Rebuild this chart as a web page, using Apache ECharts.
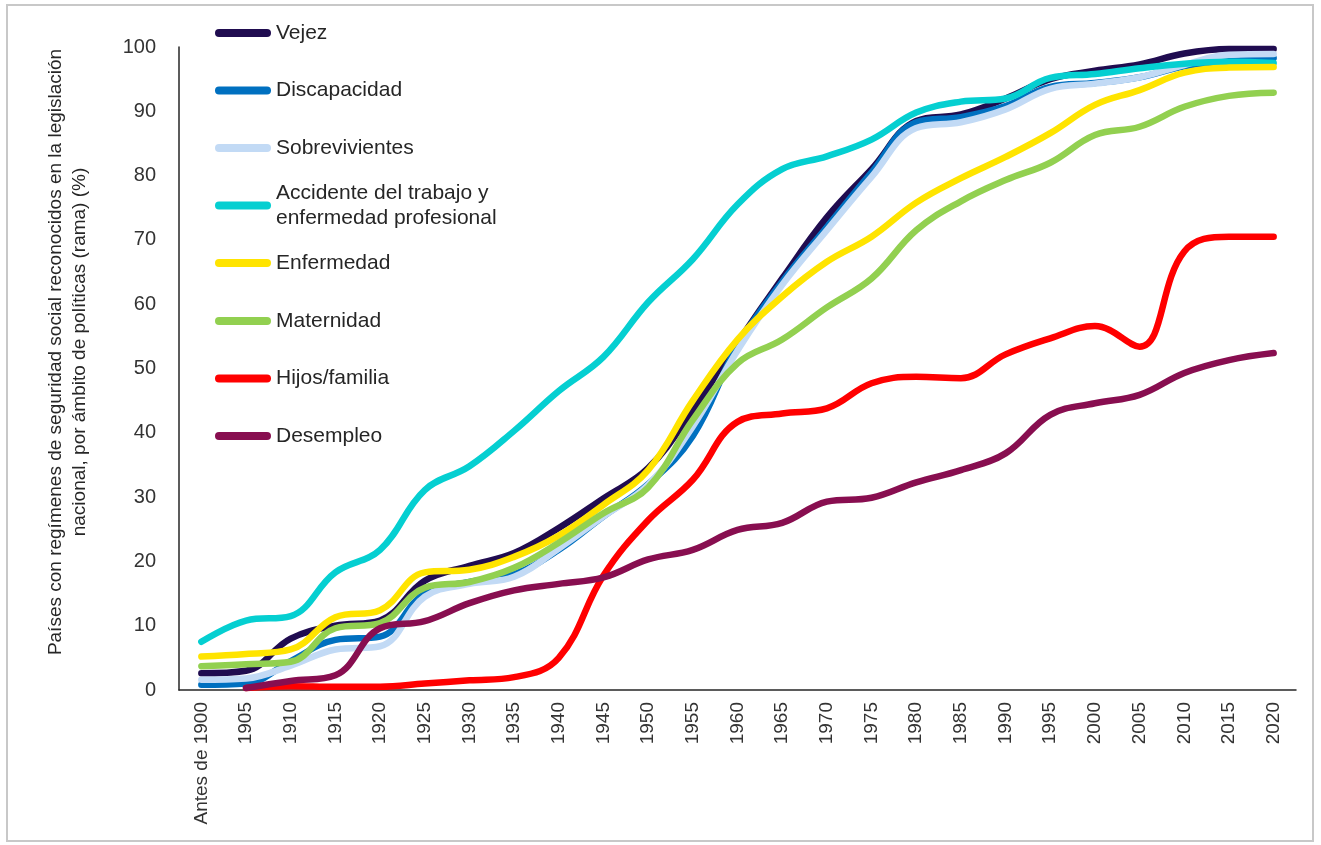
<!DOCTYPE html>
<html>
<head>
<meta charset="utf-8">
<script src="https://cdn.jsdelivr.net/npm/echarts@6/dist/echarts.min.js"></script>
<style>
html,body{margin:0;padding:0;background:#fff;}
#chart{width:1321px;height:845px;}
</style>
</head>
<body>
<div id="chart"></div>
<script>
const categories = ['Antes de 1900','1905','1910','1915','1920','1925','1930','1935','1940','1945','1950','1955','1960','1965','1970','1975','1980','1985','1990','1995','2000','2005','2010','2015','2020'];

const vejez          = [2.6, 3.0, 8.0, 10.0, 10.8, 17.0, 19.3, 21.3, 25.2, 29.8, 34.5, 43.5, 54.0, 64.0, 73.5, 81.0, 88.5, 89.5, 92.0, 95.0, 96.3, 97.3, 99.0, 99.7, 99.7];
const discapacidad   = [0.8, 1.0, 4.5, 7.8, 8.3, 15.0, 16.8, 18.0, 21.8, 27.0, 32.0, 39.5, 53.5, 63.5, 72.0, 80.5, 88.3, 89.1, 90.8, 93.8, 94.4, 95.3, 97.0, 97.8, 98.3];
const sobrevivientes = [1.6, 1.8, 3.8, 6.3, 6.8, 14.5, 16.5, 17.6, 22.0, 27.0, 31.9, 41.0, 52.8, 63.0, 71.5, 79.8, 87.4, 88.3, 90.3, 93.5, 94.3, 95.3, 97.2, 98.8, 98.9];
const accidente      = [7.5, 10.8, 11.5, 18.3, 21.8, 31.1, 34.8, 40.3, 46.5, 51.8, 60.3, 67.0, 75.5, 81.0, 83.0, 85.6, 89.8, 91.5, 92.0, 95.2, 95.8, 96.7, 97.4, 97.7, 97.5];
const enfermedad     = [5.2, 5.6, 6.3, 11.3, 12.4, 18.3, 18.7, 20.7, 24.0, 28.8, 34.2, 45.0, 54.5, 61.2, 66.6, 70.5, 75.8, 79.6, 82.9, 86.6, 91.0, 93.3, 96.0, 96.8, 96.9];
const maternidad     = [3.7, 4.0, 4.4, 9.6, 10.4, 15.9, 16.8, 19.0, 22.9, 27.5, 31.5, 42.0, 50.8, 54.5, 59.5, 64.0, 71.5, 76.0, 79.3, 82.0, 86.3, 87.6, 90.7, 92.4, 92.9];
const hijos          = [null, 0.3, 0.6, 0.5, 0.5, 1.0, 1.5, 2.0, 5.0, 17.8, 26.4, 32.7, 41.7, 43.0, 43.8, 47.7, 48.7, 48.5, 52.2, 54.7, 56.6, 53.4, 68.2, 70.5, 70.5];
const desempleo      = [null, 0.3, 1.4, 2.3, 9.6, 10.7, 13.5, 15.5, 16.5, 17.5, 20.3, 21.8, 24.9, 26.0, 29.3, 29.9, 32.3, 34.2, 36.8, 42.8, 44.6, 45.9, 49.3, 51.3, 52.4];

const seriesNames = ['Vejez','Discapacidad','Sobrevivientes','Accidente del trabajo y enfermedad profesional','Enfermedad','Maternidad','Hijos/familia','Desempleo'];
const seriesData = [vejez, discapacidad, sobrevivientes, accidente, enfermedad, maternidad, hijos, desempleo];
const seriesColors = ['#200c50','#0070c0','#c2daf5','#05cfd1','#ffe400','#92d050','#ff0000','#880e50'];

const yTitle = 'Países con regímenes de seguridad social reconocidos en la legislación\nnacional, por ámbito de políticas (rama) (%)';

const FONT = '"Liberation Sans", Arial, sans-serif';
const pill = 'path://M4,0 L52,0 A4,4 0 0 1 52,8 L4,8 A4,4 0 0 1 4,0 Z';

const legendCenters = [33, 90.5, 148, 205.5, 263, 321, 378.5, 436];

const legends = seriesNames.map((name, i) => {
  const isTwo = i === 3;
  return {
    data: [name],
    orient: 'vertical',
    left: 215,
    top: isTwo ? legendCenters[i] - 37.5 : legendCenters[i] - 12.5,
    padding: 0,
    icon: pill,
    itemWidth: 56,
    itemHeight: 8,
    selectedMode: false,
    formatter: isTwo ? 'Accidente del trabajo y\nenfermedad profesional' : '{name}',
    textStyle: {
      fontFamily: FONT,
      fontSize: 21,
      lineHeight: 25,
      color: '#262626',
      padding: isTwo ? [25, 0, 0, 0] : 0
    }
  };
});

const chart = echarts.init(document.getElementById('chart'), null, {renderer: 'canvas'});
chart.setOption({
  backgroundColor: '#ffffff',
  animation: false,
  grid: {left: 179, right: 25, top: 47, bottom: 155, containLabel: false},
  legend: legends,
  xAxis: {
    type: 'category',
    data: categories,
    boundaryGap: true,
    axisLine: {show: true, lineStyle: {color: '#262626', width: 1.5}},
    axisTick: {show: false},
    axisLabel: {
      rotate: 90,
      interval: 0,
      margin: 12,
      fontFamily: FONT,
      fontSize: 19,
      color: '#333333'
    },
    splitLine: {show: false}
  },
  yAxis: {
    type: 'value',
    min: 0,
    max: 100,
    interval: 10,
    axisLine: {show: true, lineStyle: {color: '#262626', width: 1.5}},
    axisTick: {show: false},
    axisLabel: {margin: 23, fontFamily: FONT, fontSize: 20, color: '#333333'},
    splitLine: {show: false}
  },
  graphic: [
    {
      type: 'rect', silent: true,
      shape: {x: 7, y: 5, width: 1306, height: 836},
      style: {fill: 'none', stroke: '#c8c8c8', lineWidth: 2}
    },
    {
      type: 'text', silent: true,
      x: 68, y: 352, rotation: Math.PI / 2,
      style: {
        text: yTitle,
        align: 'center', verticalAlign: 'middle',
        font: '19px ' + FONT,
        lineHeight: 24,
        fill: '#262626'
      }
    }
  ],
  series: seriesNames.map((name, i) => ({
    name: name,
    type: 'line',
    data: seriesData[i],
    smooth: 0.4,
    symbol: 'none',
    connectNulls: false,
    itemStyle: {color: seriesColors[i]},
    lineStyle: {color: seriesColors[i], width: 6.5, cap: 'round', join: 'round'},
    emphasis: {disabled: true}
  }))
});
</script>
</body>
</html>
